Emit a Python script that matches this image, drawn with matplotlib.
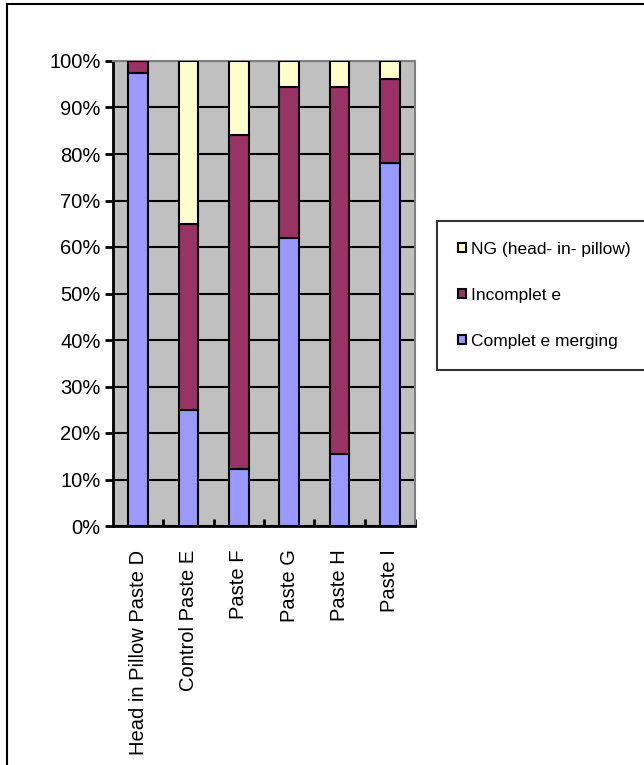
import numpy as np
import matplotlib.pyplot as plt
from matplotlib.lines import Line2D

plt.rcParams['font.family'] = ['Liberation Sans', 'DejaVu Sans']

# --datos (porcentaje de cada categoria)
categorias = ['Head in Pillow Paste D', 'Control Paste E', 'Paste F',
              'Paste G', 'Paste H', 'Paste I']
complete = [97.5, 25.0, 12.3, 62.0, 15.4, 78.0]
incomplete = [2.5, 40.0, 71.7, 32.5, 79.1, 18.2]
ng = [0.0, 35.0, 16.0, 5.5, 5.5, 3.8]
series_names = ['Complet e merging', 'Incomplet e', 'NG (head- in- pillow)']
colores = ['#9999FF', '#993366', '#FFFFCC']

fig = plt.figure(figsize=(6.44, 7.65), dpi=100)
ax = fig.add_axes([113 / 644, 1 - 526 / 765, 302 / 644, 465 / 765])
ax.set_facecolor('#C0C0C0')

x = np.arange(len(categorias))
bottom = np.zeros(len(categorias))
handles = []
for vals, name, col in zip([complete, incomplete, ng], series_names, colores):
    b = ax.bar(x, vals, 0.39, bottom=bottom, color=col, edgecolor='black',
               linewidth=1.5, label=name, zorder=3)
    handles.append(b)
    bottom = bottom + np.array(vals)

# --ejes
ax.set_xlim(-0.5, len(categorias) - 0.5)
ax.set_ylim(0, 100)
ax.set_yticks(np.arange(0, 101, 10))
ax.set_yticklabels([f'{v}%' for v in range(0, 101, 10)], fontsize=14.5)
ax.yaxis.grid(True, color='black', linewidth=1.5, zorder=1)
ax.set_axisbelow(True)
ax.tick_params(axis='y', direction='out', length=6, width=2, pad=3)

ax.set_xticks(x)
ax.set_xticklabels(categorias, rotation=90, fontsize=14.5, va='top', ha='center')
ax.tick_params(axis='x', length=0, pad=17)
ax.set_xticks(np.arange(0.5, len(categorias), 1), minor=True)
ax.tick_params(axis='x', which='minor', direction='in', length=5, width=2)

for s in ['left', 'bottom']:
    ax.spines[s].set_linewidth(2)
    ax.spines[s].set_color('black')
for s in ['top', 'right']:
    ax.spines[s].set_linewidth(1.5)
    ax.spines[s].set_color('#808080')

# --leyenda
leg = fig.legend(handles[::-1], series_names[::-1], loc='upper left',
                 bbox_to_anchor=(437 / 644, 1 - 221 / 765), borderaxespad=0,
                 fontsize=12.5, frameon=True, fancybox=False, edgecolor='black',
                 handlelength=0.45, handleheight=0.45, handletextpad=0.3,
                 labelspacing=1.79, borderpad=1.2)
leg.get_frame().set_linewidth(1.5)

# --marco de la figura
fig.add_artist(Line2D([7 / 644, 7 / 644], [0, 1 - 4 / 765], color='black',
                      linewidth=1.5, transform=fig.transFigure))
fig.add_artist(Line2D([7 / 644, 1], [1 - 4 / 765, 1 - 4 / 765], color='black',
                      linewidth=1.5, transform=fig.transFigure))

fig.savefig('out.png', dpi=100)
